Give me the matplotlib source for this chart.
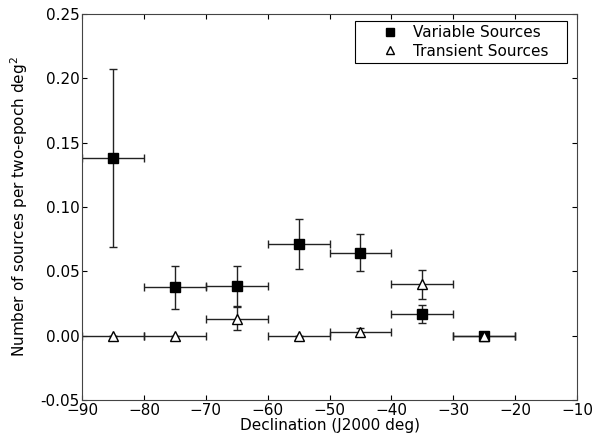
import matplotlib
matplotlib.use("Agg")
import matplotlib.pyplot as plt
import numpy as np

# declination bin centres and half-widths
dec = [-85, -75, -65, -55, -45, -35, -25]
dec_err = [5, 5, 5, 5, 5, 5, 5]

# variable sources per two-epoch deg^2
var_rate = [0.138, 0.0377, 0.0384, 0.0714, 0.0645, 0.0166, 0.0]
var_err = [0.069, 0.0168, 0.0156, 0.0196, 0.0143, 0.0071, 0.0]

# transient sources per two-epoch deg^2
tr_rate = [0.0, 0.0, 0.0132, 0.0, 0.0032, 0.0398, 0.0]
tr_err = [0.0, 0.0, 0.0091, 0.0, 0.0031, 0.0113, 0.0]

plt.rcParams['font.family'] = ['DejaVu Sans']
plt.rcParams['xtick.direction'] = 'in'
plt.rcParams['ytick.direction'] = 'in'

fig = plt.figure(figsize=(5.97, 4.41), dpi=100)
ax = fig.add_axes([0.1374, 0.093, 0.8291, 0.8753])

ax.errorbar(dec, var_rate, xerr=dec_err, yerr=var_err, fmt='s', color='black',
            ecolor='#222222', elinewidth=1.0, capsize=3, markersize=7,
            label='Variable Sources')
ax.errorbar(dec, tr_rate, xerr=dec_err, yerr=tr_err, fmt='^', mfc='white',
            mec='black', color='black', ecolor='#222222', elinewidth=1.0,
            capsize=3, markersize=7, label='Transient Sources')

ax.set_xlim(-90, -10)
ax.set_ylim(-0.05, 0.25)
ax.set_xticks(np.arange(-90, -9, 10))
ax.set_yticks(np.arange(-0.05, 0.251, 0.05))
ax.yaxis.set_major_formatter(matplotlib.ticker.FormatStrFormatter('%.2f'))
ax.tick_params(which='both', top=True, right=True, length=3.5, pad=2,
               labelsize=11)
for s in ax.spines.values():
    s.set_color('#444444')

ax.set_xlabel('Declination (J2000 deg)', fontsize=11, labelpad=0)
ax.set_ylabel('Number of sources per two-epoch deg$^2$', fontsize=11,
              labelpad=7)

handles, labels = ax.get_legend_handles_labels()
handles = [h[0] for h in handles]
leg = ax.legend(handles, labels, loc='upper left', numpoints=1, fontsize=11,
                bbox_to_anchor=(0.5515, 0.9826, 0.4283, 0.0), mode='expand',
                fancybox=False, framealpha=1, borderaxespad=0.0,
                borderpad=0.3, handlelength=4.0, handletextpad=-0.5,
                labelspacing=0.22, markerscale=0.9)
leg.get_frame().set_edgecolor('black')
leg.get_frame().set_linewidth(0.8)

fig.savefig('out.png', dpi=100)
